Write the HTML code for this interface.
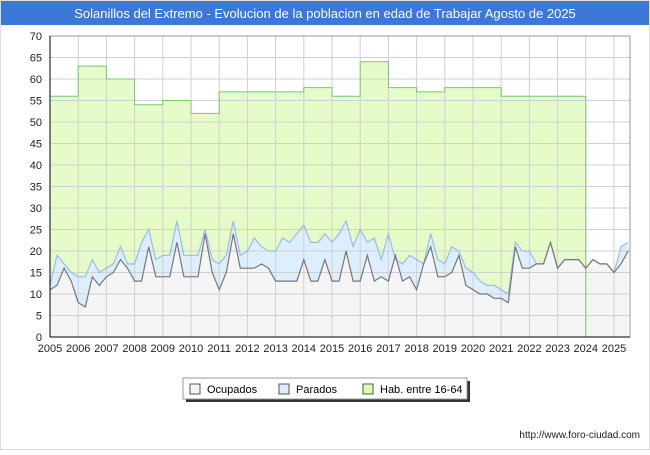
<!DOCTYPE html>
<html><head><meta charset="utf-8"><style>
body{margin:0;width:650px;height:450px;background:#fff;font-family:"Liberation Sans",sans-serif;overflow:hidden}
</style></head><body>
<svg width="650" height="450" xmlns="http://www.w3.org/2000/svg">
<rect x="0" y="0" width="650" height="450" fill="#fff" stroke="#bbb"/>
<rect x="1" y="1" width="648" height="24" fill="#3b78d8"/>
<text x="325" y="18" text-anchor="middle" fill="#fff" font-size="13">Solanillos del Extremo - Evolucion de la poblacion en edad de Trabajar Agosto de 2025</text>
<g id="plot"></g>
<text x="640" y="438" text-anchor="end" font-size="10" fill="#222">http://www.foro-ciudad.com</text>
<g>
<rect x="186" y="381" width="284" height="21" fill="#333"/>
<rect x="183" y="378" width="284" height="21" fill="#fff" stroke="#999"/>
<rect x="190" y="384" width="10" height="10" fill="#f5f5f5" stroke="#555"/>
<text x="207" y="393" font-size="11">Ocupados</text>
<rect x="279" y="384" width="10" height="10" fill="#ddeeff" stroke="#555"/>
<text x="296" y="393" font-size="11">Parados</text>
<rect x="363" y="384" width="10" height="10" fill="#ddfcb8" stroke="#555"/>
<text x="380" y="393" font-size="11">Hab. entre 16-64</text>
</g>
</svg>
<script>
const years=[2005,2006,2007,2008,2009,2010,2011,2012,2013,2014,2015,2016,2017,2018,2019,2020,2021,2022,2023];
const hab=[56,63,60,54,55,52,57,57,57,58,56,64,58,57,58,58,56,56,56];
const ocupados=[11,12,16,13,8,7,14,12,14,15,18,16,13,13,21,14,14,14,22,14,14,14,24,15,11,15,24,16,16,16,17,16,13,13,13,13,18,13,13,18,13,13,20,13,13,19,13,14,13,19,13,14,11,17,21,14,14,15,19,12,11,10,10,9,9,8,21,16,16,17,17,22,16,18,18,18,16,18,17,17,15,17,20];
const total=[12,19,17,15,14,14,18,15,16,17,21,17,17,22,25,18,19,19,27,19,19,19,25,18,17,19,27,19,20,23,21,20,20,23,22,24,26,22,22,24,22,24,27,21,25,22,23,18,24,18,17,19,18,17,24,18,17,21,20,16,15,13,12,12,11,10,22,20,20,17,17,22,16,18,18,18,16,18,17,17,15,21,22];
const yTicks=[0,5,10,15,20,25,30,35,40,45,50,55,60,65,70];
const xTicks=[2005,2006,2007,2008,2009,2010,2011,2012,2013,2014,2015,2016,2017,2018,2019,2020,2021,2022,2023,2024,2025];
const X0=50,X1=630,Y0=337,Y1=36;
const xs=t=>X0+(t-2005)*28.2;
const ys=v=>Y0-v*(Y0-Y1)/70;
const g=document.getElementById('plot');
const NS='http://www.w3.org/2000/svg';
function mk(tag,attrs){const e=document.createElementNS(NS,tag);for(const k in attrs)e.setAttribute(k,attrs[k]);g.appendChild(e);return e;}
mk('rect',{x:X0,y:Y1,width:X1-X0,height:Y0-Y1,fill:'#fff'});
// hab step
let d='M'+xs(2005)+','+ys(0);
years.forEach((y,i)=>{d+=' L'+xs(y)+','+ys(hab[i])+' L'+xs(y+1)+','+ys(hab[i]);});
d+=' L'+xs(2024)+','+ys(0)+' Z';
const h=mk('path',{d:d,fill:'#e6fcc8',stroke:'none'});


function area(arr,fill,stroke,name){
 let p='';arr.forEach((v,i)=>{p+=(i?' L':'M')+xs(2005+i/4).toFixed(1)+','+ys(v).toFixed(1);});
 const n=arr.length-1;
 const a=mk('path',{d:p+' L'+xs(2005+n/4)+','+ys(0)+' L'+xs(2005)+','+ys(0)+' Z',fill:fill});
 
 
 return p;
}
const pp=area(total,'#ddeeff','#99bbee','parados');
const po=area(ocupados,'#f5f5f5','#777','ocupados');
yTicks.forEach(v=>{const l=mk('line',{x1:X0,x2:X1,y1:ys(v),y2:ys(v),stroke:'#d0d0d0'});


const t=mk('text',{x:X0-8,y:ys(v)+4,'text-anchor':'end','font-size':11,fill:'#222'});t.textContent=v;

});
xTicks.forEach(v=>{const l=mk('line',{x1:xs(v),x2:xs(v),y1:Y1,y2:Y0,stroke:'#d0d0d0'});


const t=mk('text',{x:xs(v),y:Y0+15,'text-anchor':'middle','font-size':11,fill:'#222'});t.textContent=v;

});
let dl='';years.forEach((y,i)=>{dl+=(i?' L':'M')+xs(y)+','+ys(hab[i])+' L'+xs(y+1)+','+ys(hab[i]);});dl+=' L'+xs(2024)+','+ys(0);
const hl=mk('path',{d:dl,fill:'none',stroke:'#77c777','stroke-width':1});


const l1=mk('path',{d:pp,fill:'none',stroke:'#99bbee','stroke-width':1.2});


const l2=mk('path',{d:po,fill:'none',stroke:'#777','stroke-width':1.2});


mk('rect',{x:X0,y:Y1,width:X1-X0,height:Y0-Y1,fill:'none',stroke:'#999'});
mk('line',{x1:X0,x2:X0,y1:Y1,y2:Y0,stroke:'#000'});
mk('line',{x1:X0,x2:X1,y1:Y0,y2:Y0,stroke:'#000'});
</script>
</body></html>
